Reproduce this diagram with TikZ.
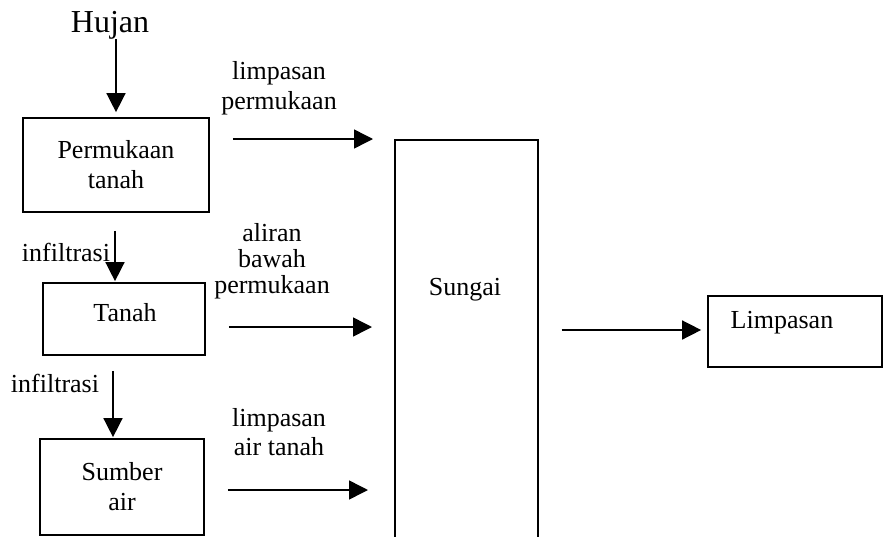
\documentclass[tikz,border=0pt]{standalone}
\usepackage{fontspec}
\setmainfont{Liberation Serif}
\usetikzlibrary{arrows.meta,calc}
\tikzset{
  box/.style={draw, line width=1.7pt, inner sep=0pt},
  arr/.style={line width=1.5pt, -{Triangle[length=19pt,width=19pt]}},
  txt/.style={font=\fontsize{26}{30}\selectfont, align=center, inner sep=0pt},
}
\begin{document}
\begin{tikzpicture}[x=1pt,y=-1pt]
\useasboundingbox (0,0) rectangle (884,536);
\clip (0,0) rectangle (884,536);
% boxes
\node[box, minimum width=186pt, minimum height=94pt, txt] (perm) at (116,165) {Permukaan\\tanah};
\node[box, minimum width=162pt, minimum height=72pt] (tanah) at (124,319) {};
\node[txt] (tanahlbl) at (125,313) {Tanah};
\node[box, minimum width=164pt, minimum height=96pt, txt] (sumber) at (122,487) {Sumber\\air};
\node[box, minimum width=143pt, minimum height=441pt, anchor=north west] (sungai) at (394,139) {};
\node[txt] (sungailbl) at (465,290) {Sungai};
\node[box, minimum width=174pt, minimum height=71pt] (limp) at (795,331.5) {};
\node[txt] (limplbl) at (782,323) {Limpasan};
% texts
\node[txt, font=\fontsize{32}{36}\selectfont] (hujan) at (110,25) {Hujan};
\node[txt] (inf1) at (66,252) {infiltrasi};
\node[txt] (inf2) at (55,383) {infiltrasi};
\node[txt, font=\fontsize{26}{30}\selectfont] (lp) at (279,88) {limpasan\\permukaan};
\node[txt, font=\fontsize{26}{26}\selectfont] (abp) at (272,261) {aliran\\bawah\\permukaan};
\node[txt, font=\fontsize{26}{29}\selectfont] (lat) at (279,432) {limpasan\\air tanah};
% vertical arrows
\draw[arr, shorten >=5pt] (perm.north |- hujan.south) -- (perm.north);
\draw[arr, shorten <=18pt, shorten >=1pt] ([xshift=-9pt]tanah.north |- perm.south) -- ([xshift=-9pt]tanah.north);
\draw[arr, shorten <=15pt, shorten >=1pt] ([xshift=-9pt]sumber.north |- tanah.south) -- ([xshift=-9pt]sumber.north);
% horizontal arrows
\draw[arr, shorten <=23pt, shorten >=21pt] (perm.east |- sungai.north west) -- (sungai.north west);
\draw[arr, shorten <=23pt, shorten >=22pt] ([yshift=-8pt]tanah.east) -- ([yshift=-8pt]tanah.east -| sungai.west);
\draw[arr, shorten <=23pt, shorten >=26pt] ([yshift=-3pt]sumber.east) -- ([yshift=-3pt]sumber.east -| sungai.west);
\draw[arr, shorten <=23pt, shorten >=6pt] ([yshift=1.5pt]limp.west -| sungai.east) -- ([yshift=1.5pt]limp.west);
\end{tikzpicture}
\end{document}
